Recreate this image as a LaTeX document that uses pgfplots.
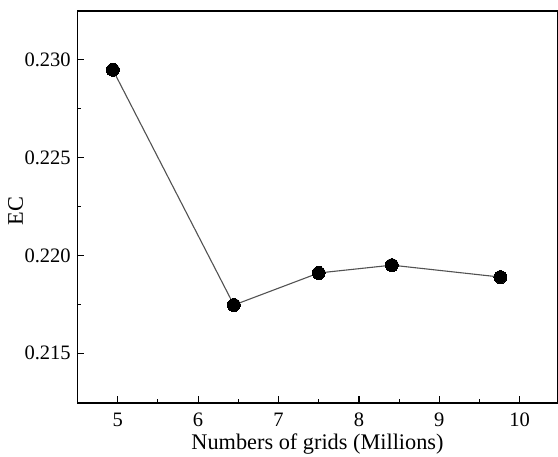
\documentclass[border=0pt]{standalone}
\usepackage{pgfplots}
\pgfplotsset{compat=1.18}
\usepackage{fontspec}
\setmainfont{Liberation Serif}
\begin{document}
\fontsize{20}{24}\selectfont
\begin{tikzpicture}
\path[use as bounding box] (-77.5pt,-54pt) rectangle (480.5pt,403pt);
\begin{axis}[
  at={(0pt,0pt)}, anchor=south west,
  scale only axis,
  width=480pt, height=392pt,
  xmin=4.5, xmax=10.47,
  ymin=0.21245, ymax=0.2325,
  xtick={5,6,7,8,9,10},
  ytick={0.215,0.220,0.225,0.230},
  minor x tick num=1,
  minor y tick num=1,
  tick pos=left,
  tick align=inside,
  major tick length=7pt,
  minor tick length=4pt,
  every tick/.style={black, line width=1.2pt},
  axis line style={black, line width=1.2pt},
  /pgf/number format/assume math mode=true,
  yticklabel style={/pgf/number format/.cd, fixed, fixed zerofill, precision=3},
  tick label style={font=\fontsize{20.5}{24}\selectfont},
  label style={font=\fontsize{22.3}{26}\selectfont},
  xticklabel style={anchor=base, yshift=-24pt},
  xlabel={Numbers of grids (Millions)},
  ylabel={EC},
  xlabel style={at={(axis description cs:0.5,0)}, anchor=base, yshift=-46.5pt},
  ylabel style={at={(axis description cs:-0.129,0.49)}, anchor=center},
  clip=false,
]
\addplot[color=black!68, line width=1.1pt, mark=*, mark size=6.5pt,
  mark options={fill=black, draw=black, line width=0pt}]
coordinates {
(4.94,0.22949)
(6.445,0.21746)
(7.50,0.2191)
(8.41,0.21950)
(9.76,0.21889)
};
\end{axis}
\end{tikzpicture}
\end{document}
